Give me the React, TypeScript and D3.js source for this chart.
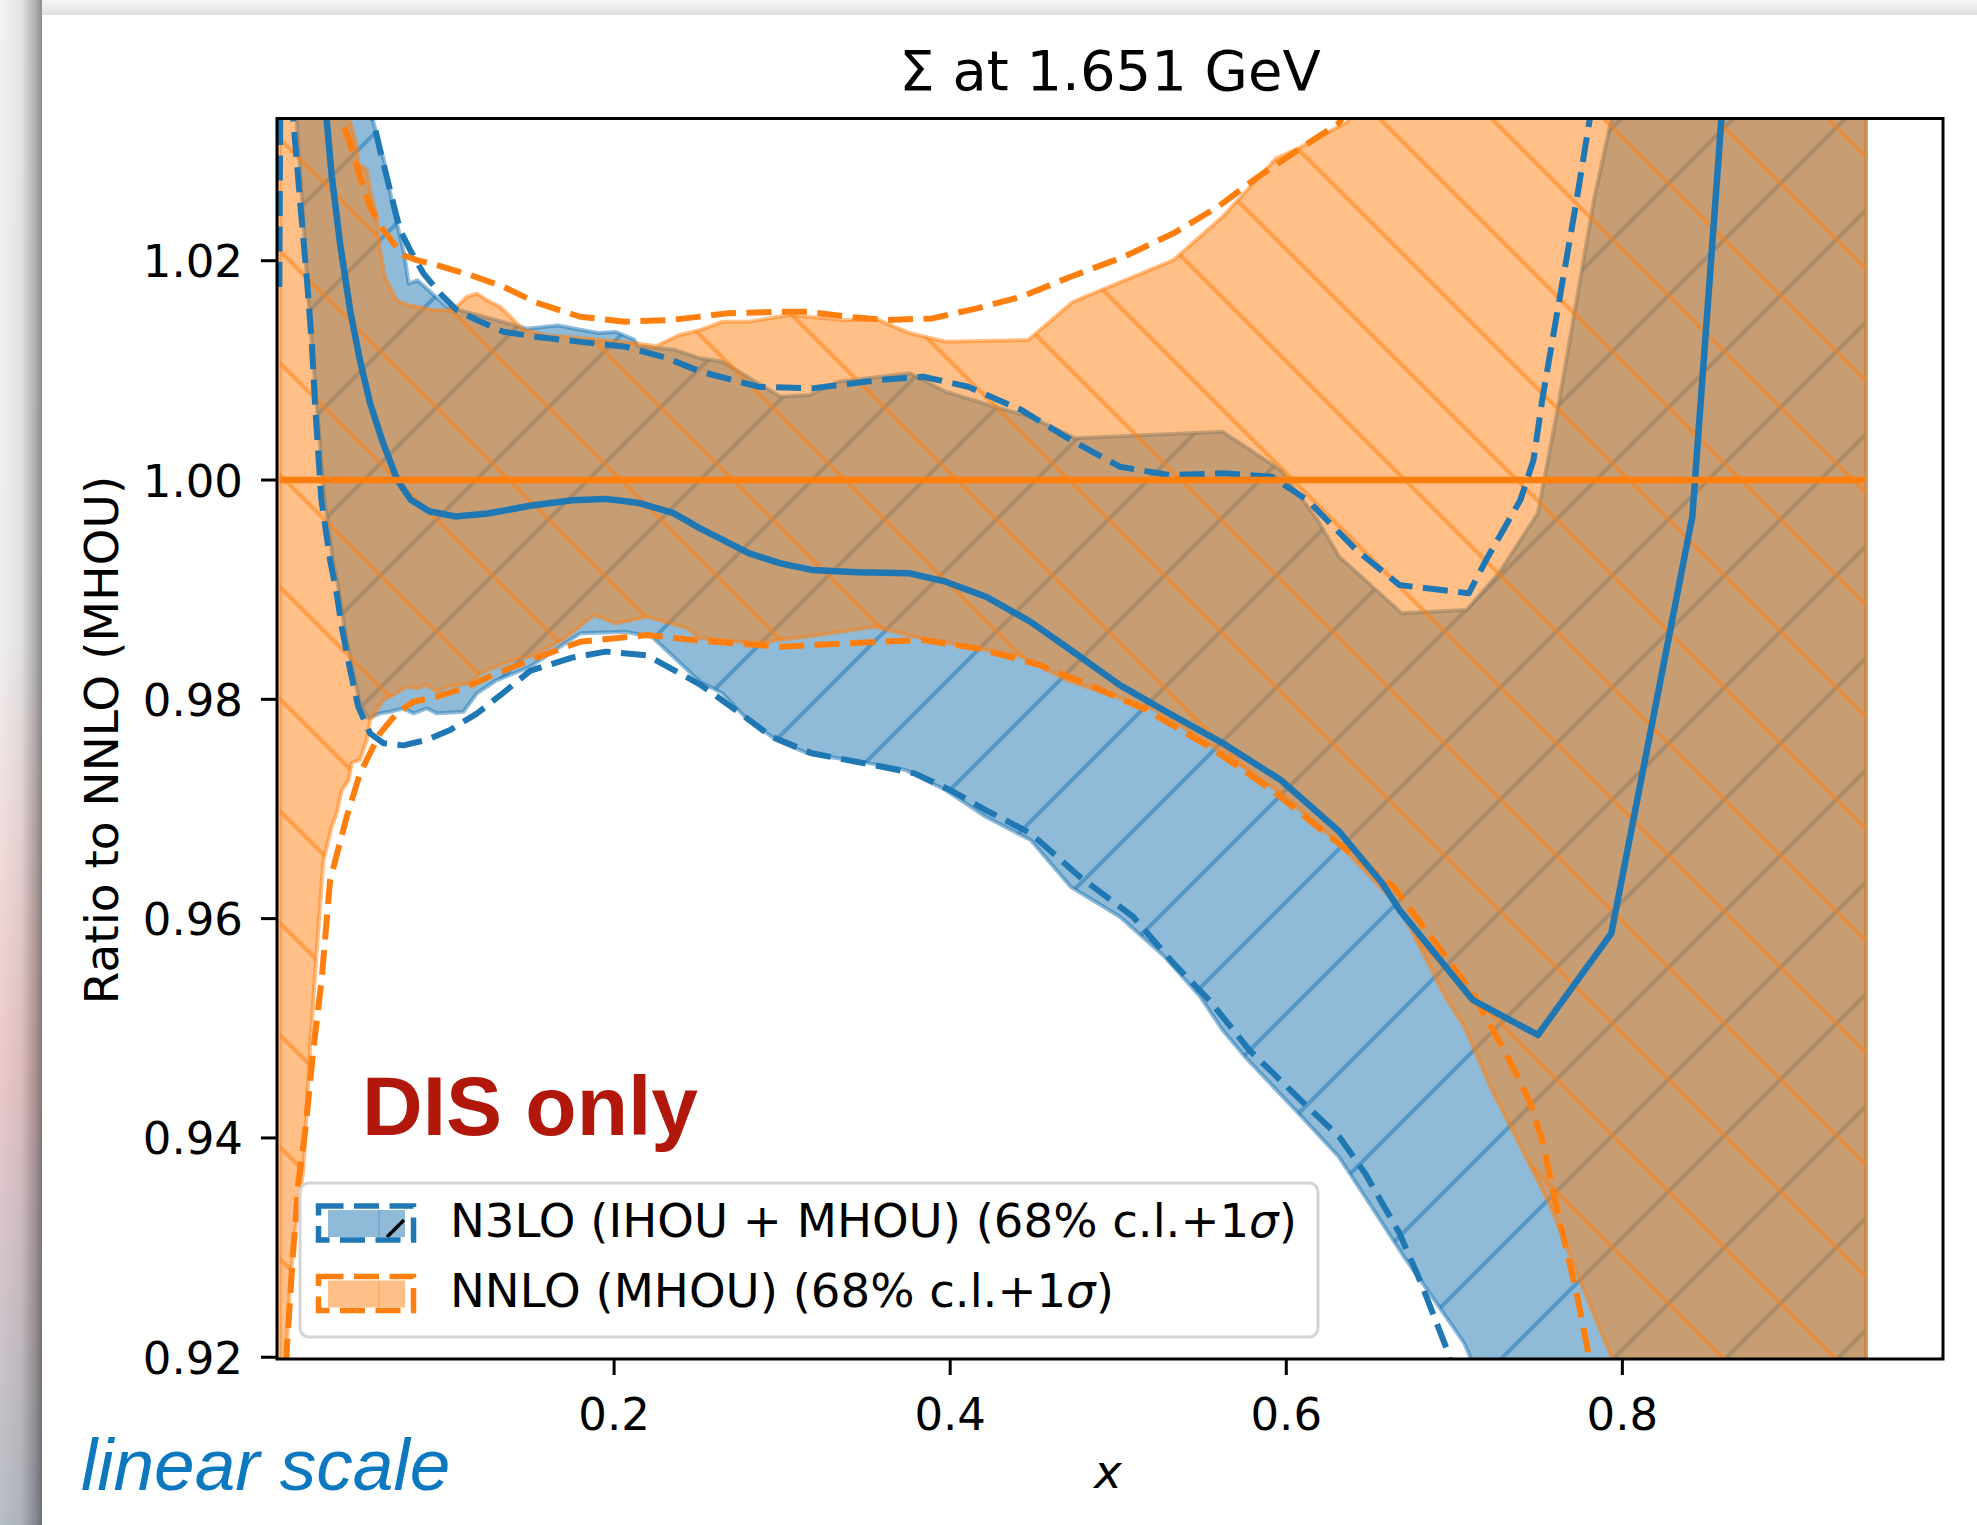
import React, { useEffect, useRef } from "react";
import * as d3 from "d3";

type Pt = [number, number];

// N3LO (IHOU + MHOU) -- central value, band edges and 68% c.l.+1sigma dashed envelope
const n3loCentral: Pt[] = [
  [0.01, 1.12], [0.02, 1.052], [0.0245, 1.041], [0.029, 1.0328], [0.032, 1.0277],
  [0.0369, 1.0216], [0.0429, 1.0155], [0.0488, 1.0109], [0.0548, 1.007], [0.062, 1.0036],
  [0.071, 1.0], [0.079, 0.9982], [0.09, 0.99715], [0.1055, 0.99668], [0.125, 0.99695],
  [0.15, 0.99765], [0.175, 0.99815], [0.195, 0.99828], [0.215, 0.9979], [0.235, 0.997],
  [0.2512, 0.99559], [0.2804, 0.99331], [0.299, 0.9924], [0.3176, 0.9918], [0.345, 0.9916],
  [0.376, 0.99149], [0.3973, 0.99073], [0.4213, 0.98936], [0.4476, 0.98709], [0.4717, 0.9845],
  [0.501, 0.9813], [0.5302, 0.97873], [0.5621, 0.97601], [0.5967, 0.97264], [0.6312, 0.96799],
  [0.657, 0.96325], [0.6674, 0.96078], [0.711, 0.95258], [0.7497, 0.94939], [0.7934, 0.95866],
  [0.8416, 0.99663], [0.88, 1.077],
];
const n3loBandHi: Pt[] = [
  [0.001, 1.1], [0.05, 1.06], [0.0564, 1.0328], [0.063, 1.0292], [0.0684, 1.0249],
  [0.075, 1.0207], [0.0777, 1.0179], [0.083, 1.0182], [0.0896, 1.0173], [0.1002, 1.0158],
  [0.12, 1.015], [0.1481, 1.0138], [0.1667, 1.0141], [0.1798, 1.0137], [0.1905, 1.0134],
  [0.2012, 1.0135], [0.2119, 1.0128], [0.2143, 1.0122], [0.2357, 1.0119], [0.2512, 1.0111],
  [0.2645, 1.0108], [0.299, 1.0076], [0.3163, 1.00775], [0.3336, 1.00896], [0.3761, 1.00973],
  [0.3973, 1.00805], [0.4265, 1.00668], [0.4479, 1.00577], [0.4744, 1.0038], [0.5621, 1.0044],
  [0.5967, 1.00091], [0.6186, 0.99635], [0.6315, 0.993], [0.6688, 0.98784], [0.7072, 0.98814],
  [0.7265, 0.99149], [0.7497, 0.99696], [0.7625, 1.0073], [0.7728, 1.01642], [0.7831, 1.02554],
  [0.7934, 1.03283], [0.81, 1.05], [0.945, 1.06],
];
const n3loBandLo: Pt[] = [
  [0.001, 1.1], [0.0111, 1.0328], [0.0141, 1.0262], [0.0171, 1.0185], [0.0201, 1.0125],
  [0.023, 1.007], [0.0275, 0.9985], [0.0327, 0.9927], [0.0365, 0.9897], [0.0395, 0.9866],
  [0.0445, 0.9827], [0.049, 0.9795], [0.0538, 0.97827], [0.0607, 0.97872], [0.0667, 0.97887],
  [0.0746, 0.97918], [0.0806, 0.97872], [0.0885, 0.97918], [0.0945, 0.97872], [0.1103, 0.97887],
  [0.1183, 0.98055], [0.1302, 0.98176], [0.15, 0.98297], [0.1798, 0.98602], [0.2065, 0.98617],
  [0.2225, 0.98571], [0.2512, 0.9816], [0.2645, 0.98055], [0.2777, 0.97842], [0.2964, 0.97629],
  [0.3149, 0.97508], [0.3521, 0.97416], [0.3735, 0.97355], [0.3973, 0.97173], [0.4212, 0.96929],
  [0.4479, 0.96717], [0.4717, 0.96291], [0.501, 0.96017], [0.5276, 0.95653], [0.5488, 0.95288],
  [0.5621, 0.94984], [0.5754, 0.9474], [0.6073, 0.94224], [0.6312, 0.93829], [0.6469, 0.93464],
  [0.67, 0.92917], [0.6854, 0.92583], [0.706, 0.92126], [0.7098, 0.9199], [0.73, 0.9],
  [0.945, 0.88],
];
const n3loDashHi: Pt[] = [
  [0.0008, 1.0176], [0.0025, 1.07], [0.045, 1.07], [0.052, 1.04], [0.0567, 1.0328],
  [0.0607, 1.0301], [0.0647, 1.02766], [0.0686, 1.02523], [0.0726, 1.0228], [0.0786, 1.02098],
  [0.0865, 1.01885], [0.0964, 1.01703], [0.1064, 1.0155], [0.1183, 1.01459], [0.1341, 1.01352],
  [0.1534, 1.01307], [0.18, 1.0126], [0.2065, 1.01216], [0.23, 1.0112], [0.2512, 1.0099],
  [0.2857, 1.00851], [0.3176, 1.00836], [0.3575, 1.00912], [0.384, 1.00942], [0.4107, 1.00851],
  [0.4425, 1.00638], [0.4717, 1.00365], [0.501, 1.00121], [0.5302, 1.00046], [0.5621, 1.00061],
  [0.5913, 1.0003], [0.6125, 0.99818], [0.6417, 0.99362], [0.6674, 0.99042], [0.7086, 0.98967],
  [0.7189, 0.9927], [0.7393, 0.99818], [0.7471, 1.00182], [0.7523, 1.0073], [0.7625, 1.01642],
  [0.7728, 1.02554], [0.7805, 1.03283], [0.8, 1.05],
];
const n3loDashLo: Pt[] = [
  [0.001, 1.09], [0.006, 1.042], [0.0091, 1.0328], [0.0111, 1.0292], [0.0141, 1.0237],
  [0.0171, 1.0185], [0.0201, 1.0125], [0.022, 1.007], [0.0258, 0.9982], [0.031, 0.9927],
  [0.0349, 0.9897], [0.0379, 0.9866], [0.0429, 0.9827], [0.0478, 0.9793], [0.0548, 0.9769],
  [0.0627, 0.976], [0.0746, 0.9758], [0.0885, 0.9763], [0.1024, 0.9772], [0.1183, 0.9787],
  [0.1341, 0.9806], [0.15, 0.9826], [0.175, 0.9838], [0.195, 0.98435], [0.2196, 0.984],
  [0.2512, 0.98135], [0.2751, 0.97872], [0.2937, 0.97659], [0.3176, 0.97508], [0.3548, 0.974],
  [0.3787, 0.97325], [0.4, 0.97173], [0.4212, 0.9699], [0.4479, 0.96778], [0.4771, 0.96382],
  [0.5089, 0.96017], [0.5329, 0.95592], [0.5541, 0.95258], [0.578, 0.94802], [0.6126, 0.94285],
  [0.6315, 0.94011], [0.6469, 0.93677], [0.6674, 0.9313], [0.6803, 0.92674], [0.6957, 0.92066],
  [0.72, 0.905],
];

// NNLO (MHOU) -- the reference, so its central value is 1
const nnloCentral: Pt[] = [[0.001, 1.0], [0.945, 1.0]];
const nnloBandHi: Pt[] = [
  [0.001, 1.1], [0.04, 1.045], [0.0427, 1.0328], [0.0464, 1.0307], [0.0478, 1.0289],
  [0.0528, 1.0283], [0.0548, 1.0265], [0.0587, 1.024], [0.0607, 1.021], [0.0637, 1.0185],
  [0.0706, 1.0164], [0.0766, 1.016], [0.0826, 1.0158], [0.0925, 1.0155], [0.1004, 1.0155],
  [0.1064, 1.0158], [0.1123, 1.0167], [0.1183, 1.017], [0.1242, 1.0164], [0.1321, 1.0158],
  [0.1381, 1.0149], [0.146, 1.0137], [0.16, 1.0132], [0.18, 1.01295], [0.2119, 1.0125],
  [0.225, 1.0122], [0.2385, 1.0132], [0.2512, 1.01368], [0.2645, 1.01444], [0.2804, 1.01444],
  [0.3043, 1.01505], [0.3362, 1.01459], [0.3575, 1.01459], [0.3761, 1.01338], [0.3973, 1.01261],
  [0.4464, 1.01277], [0.4731, 1.01626], [0.5329, 1.02006], [0.5621, 1.02401], [0.594, 1.02934],
  [0.6073, 1.03025], [0.6365, 1.03268], [0.66, 1.04], [0.7, 1.05], [0.945, 1.06],
];
const nnloBandLo: Pt[] = [
  [0.001, 0.88], [0.0032, 0.915], [0.0071, 0.9267], [0.0101, 0.9313], [0.0151, 0.9371],
  [0.019, 0.948], [0.023, 0.9571], [0.027, 0.9653], [0.032, 0.9684], [0.0349, 0.9696],
  [0.0379, 0.9717], [0.0419, 0.9726], [0.0439, 0.9742], [0.0488, 0.9745], [0.0528, 0.9763],
  [0.0548, 0.9781], [0.0627, 0.97994], [0.0667, 0.98024], [0.0766, 0.98115], [0.0826, 0.981],
  [0.0885, 0.9813], [0.0945, 0.98069], [0.1002, 0.98115], [0.1143, 0.98146], [0.1202, 0.98237],
  [0.1401, 0.98358], [0.15, 0.98389], [0.1693, 0.98541], [0.188, 0.98769], [0.2012, 0.98693],
  [0.2198, 0.98753], [0.2438, 0.98647], [0.2512, 0.98556], [0.2831, 0.98511], [0.3149, 0.98571],
  [0.3548, 0.98662], [0.3787, 0.98571], [0.4159, 0.98465], [0.4425, 0.98389], [0.469, 0.98176],
  [0.5222, 0.97902], [0.5595, 0.97538], [0.5967, 0.97143], [0.6312, 0.96687], [0.6674, 0.961],
  [0.6957, 0.95258], [0.706, 0.95014], [0.7214, 0.94467], [0.7445, 0.93768], [0.7574, 0.93373],
  [0.7754, 0.92674], [0.7934, 0.92005], [0.81, 0.9], [0.945, 0.88],
];
const nnloDashHi: Pt[] = [
  [0.001, 1.09], [0.025, 1.07], [0.033, 1.042], [0.0379, 1.0328], [0.0429, 1.0307],
  [0.0488, 1.02766], [0.0548, 1.02493], [0.0627, 1.0228], [0.0696, 1.02143], [0.0746, 1.0205],
  [0.0826, 1.02006], [0.0945, 1.0196], [0.1143, 1.0187], [0.1341, 1.01763], [0.1534, 1.0162],
  [0.1798, 1.01489], [0.2065, 1.01444], [0.2331, 1.01459], [0.2512, 1.0149], [0.2671, 1.0152],
  [0.299, 1.01535], [0.3149, 1.01535], [0.3389, 1.01489], [0.3628, 1.01459], [0.3893, 1.01474],
  [0.4159, 1.01566], [0.4425, 1.01672], [0.4717, 1.01854], [0.5036, 1.02037], [0.5329, 1.0225],
  [0.5595, 1.02493], [0.5833, 1.02766], [0.6099, 1.0304], [0.6312, 1.03253], [0.66, 1.04],
];
const nnloDashLo: Pt[] = [
  [0.003, 0.9], [0.0052, 0.9207], [0.0091, 0.9298], [0.0121, 0.9359], [0.0161, 0.9405],
  [0.021, 0.948], [0.026, 0.9545], [0.031, 0.9635], [0.0409, 0.9693], [0.0488, 0.97325],
  [0.0607, 0.9769], [0.0706, 0.97872], [0.0806, 0.97978], [0.0945, 0.98024], [0.1103, 0.981],
  [0.1302, 0.98237], [0.15, 0.98358], [0.1798, 0.98525], [0.2198, 0.98586], [0.2512, 0.98535],
  [0.299, 0.9848], [0.3575, 0.98525], [0.3839, 0.98541], [0.4159, 0.98465], [0.4532, 0.98313],
  [0.4851, 0.98115], [0.5169, 0.97902], [0.5541, 0.97568], [0.5913, 0.97173], [0.6285, 0.96717],
  [0.664, 0.9629], [0.7111, 0.95318], [0.7163, 0.95166], [0.7317, 0.94741], [0.7445, 0.94346],
  [0.7523, 0.93981], [0.7625, 0.93251], [0.7728, 0.92583], [0.7792, 0.92081], [0.785, 0.915],
];

const xTicks = [0.2, 0.4, 0.6, 0.8];
const yTicks = [0.92, 0.94, 0.96, 0.98, 1.0, 1.02];
const legendLabels = ["N3LO (IHOU + MHOU) (68% c.l.+1", "NNLO (MHOU) (68% c.l.+1"];

const W = 1977;
const H = 1525;
const BLUE = "#1f77b4";
const ORANGE = "#ff7f0e";
const FONT = "DejaVu Sans";

export default function App() {
  const ref = useRef<SVGSVGElement>(null);

  useEffect(() => {
    const svg = d3.select(ref.current);
    svg.selectAll("*").remove();

    const frame = { left: 277, top: 118.5, right: 1943, bottom: 1359 };
    const x = d3.scaleLinear().domain([-0.0006, 0.9908]).range([frame.left, frame.right]);
    const y = d3.scaleLinear().domain([0.91984, 1.03297]).range([frame.bottom, frame.top]);
    const line = d3.line<Pt>().x((d) => x(d[0])).y((d) => y(d[1]));
    const bandPath = (hi: Pt[], lo: Pt[]) => line([...hi, ...lo.slice().reverse()]) + "Z";

    const defs = svg.append("defs");

    // screenshot shadow along the left and top
    const stripV = defs.append("linearGradient").attr("id", "stripV")
      .attr("x1", 0).attr("y1", 0).attr("x2", 0).attr("y2", 1);
    [[0, "#f2f2f2"], [0.42, "#f0eeee"], [0.55, "#f1dcdc"], [0.7, "#ecc8ca"], [0.8, "#d9c6cc"], [1, "#b8bec6"]]
      .forEach(([o, c]) => stripV.append("stop").attr("offset", o).attr("stop-color", c));
    const stripH = defs.append("linearGradient").attr("id", "stripH")
      .attr("x1", 0).attr("y1", 0).attr("x2", 1).attr("y2", 0);
    [[0, 0], [0.5, 0.06], [0.85, 0.28], [1, 0.42]]
      .forEach(([o, a]) => stripH.append("stop").attr("offset", o).attr("stop-color", "#000").attr("stop-opacity", a));
    const topV = defs.append("linearGradient").attr("id", "topV")
      .attr("x1", 0).attr("y1", 0).attr("x2", 0).attr("y2", 1);
    topV.append("stop").attr("offset", 0).attr("stop-color", "#f6f6f6");
    topV.append("stop").attr("offset", 1).attr("stop-color", "#e0e0e0");

    // hatches: "/" for N3LO, "\" for NNLO
    const hatch = (id: string, color: string, d: string, transform: string) => {
      defs.append("pattern").attr("id", id)
        .attr("patternUnits", "userSpaceOnUse")
        .attr("width", 112).attr("height", 112)
        .attr("patternTransform", transform)
        .append("path").attr("d", d)
        .attr("fill", "none").attr("stroke", color)
        .attr("stroke-opacity", 0.5).attr("stroke-width", 4.2);
    };
    hatch("hatchBlue", BLUE, "M-56,56L56,-56M0,112L112,0M56,168L168,56", "translate(60,0)");
    hatch("hatchOrange", ORANGE, "M-56,56L56,168M0,0L112,112M56,-56L168,56", "translate(0,83)");

    defs.append("clipPath").attr("id", "plotArea")
      .append("rect")
      .attr("x", frame.left).attr("y", frame.top)
      .attr("width", frame.right - frame.left).attr("height", frame.bottom - frame.top);

    svg.append("rect").attr("width", W).attr("height", H).attr("fill", "#fff");
    svg.append("rect").attr("width", 42).attr("height", H).attr("fill", "url(#stripV)");
    svg.append("rect").attr("width", 42).attr("height", H).attr("fill", "url(#stripH)");
    svg.append("rect").attr("x", 42).attr("width", W - 42).attr("height", 15).attr("fill", "url(#topV)");

    const plot = svg.append("g").attr("clip-path", "url(#plotArea)");

    const band = (hi: Pt[], lo: Pt[], color: string, hatchId: string) => {
      const p = bandPath(hi, lo);
      plot.append("path").attr("d", p).attr("fill", color).attr("fill-opacity", 0.5);
      plot.append("path").attr("d", p).attr("fill", `url(#${hatchId})`);
      plot.append("path").attr("d", p).attr("fill", "none")
        .attr("stroke", color).attr("stroke-opacity", 0.5)
        .attr("stroke-width", 4).attr("stroke-linejoin", "round");
    };
    band(n3loBandHi, n3loBandLo, BLUE, "hatchBlue");
    band(nnloBandHi, nnloBandLo, ORANGE, "hatchOrange");

    const curve = (pts: Pt[], color: string, dashed: boolean) => {
      plot.append("path").attr("d", line(pts)).attr("fill", "none")
        .attr("stroke", color).attr("stroke-width", dashed ? 6 : 6.5)
        .attr("stroke-linejoin", "round")
        .attr("stroke-dasharray", dashed ? "25 10.5" : null);
    };
    curve(n3loDashLo, BLUE, true);
    curve(n3loDashHi, BLUE, true);
    curve(nnloDashLo, ORANGE, true);
    curve(nnloDashHi, ORANGE, true);
    curve(n3loCentral, BLUE, false);
    curve(nnloCentral, ORANGE, false);

    // axes frame and ticks
    svg.append("rect")
      .attr("x", frame.left).attr("y", frame.top)
      .attr("width", frame.right - frame.left).attr("height", frame.bottom - frame.top)
      .attr("fill", "none").attr("stroke", "#000").attr("stroke-width", 3);

    yTicks.forEach((t) => {
      svg.append("line").attr("x1", frame.left - 16).attr("x2", frame.left)
        .attr("y1", y(t)).attr("y2", y(t)).attr("stroke", "#000").attr("stroke-width", 3);
      svg.append("text").attr("x", 243).attr("y", y(t) + 16.5)
        .attr("text-anchor", "end").attr("font-family", FONT).attr("font-size", 45)
        .text(t.toFixed(2));
    });
    xTicks.forEach((t) => {
      svg.append("line").attr("x1", x(t)).attr("x2", x(t))
        .attr("y1", frame.bottom).attr("y2", frame.bottom + 16)
        .attr("stroke", "#000").attr("stroke-width", 3);
      svg.append("text").attr("x", x(t)).attr("y", 1430)
        .attr("text-anchor", "middle").attr("font-family", FONT).attr("font-size", 45)
        .text(t.toFixed(1));
    });

    svg.append("text").attr("x", 1110).attr("y", 90)
      .attr("text-anchor", "middle").attr("font-family", FONT).attr("font-size", 56)
      .text("\u03a3 at 1.651 GeV");
    svg.append("text").attr("x", 1108).attr("y", 1488)
      .attr("text-anchor", "middle").attr("font-family", FONT).attr("font-size", 47)
      .attr("font-style", "italic").text("x");
    svg.append("text").attr("transform", "translate(118,740) rotate(-90)")
      .attr("text-anchor", "middle").attr("font-family", FONT).attr("font-size", 47)
      .text("Ratio to NNLO (MHOU)");

    // legend
    const leg = svg.append("g");
    leg.append("rect").attr("x", 300).attr("y", 1183).attr("width", 1018).attr("height", 154)
      .attr("rx", 9).attr("fill", "#fff").attr("fill-opacity", 0.8)
      .attr("stroke", "#d4d4d4").attr("stroke-width", 3);
    [BLUE, ORANGE].forEach((color, i) => {
      const top = 1206 + i * 70.5;
      leg.append("rect").attr("x", 328).attr("y", top + 4).attr("width", 77).attr("height", 27)
        .attr("fill", color).attr("fill-opacity", 0.5);
      leg.append("line").attr("x1", 379).attr("x2", 379).attr("y1", top + 4).attr("y2", top + 31)
        .attr("stroke", color).attr("stroke-opacity", 0.35).attr("stroke-width", 1.5);
      if (i === 0) {
        leg.append("line").attr("x1", 387).attr("y1", top + 31).attr("x2", 404).attr("y2", top + 14)
          .attr("stroke", "#000").attr("stroke-width", 3.5);
      }
      leg.append("rect").attr("x", 318.5).attr("y", top).attr("width", 95).attr("height", 34)
        .attr("fill", "none").attr("stroke", color).attr("stroke-width", 5.5)
        .attr("stroke-dasharray", "25 10.5");
      const txt = leg.append("text").attr("x", 450).attr("y", 1237 + i * 70)
        .attr("font-family", FONT).attr("font-size", 46.6);
      txt.append("tspan").text(legendLabels[i]);
      txt.append("tspan").attr("font-style", "italic").text("\u03c3");
      txt.append("tspan").text(")");
    });

    // annotations added on top of the figure
    svg.append("text").attr("x", 362).attr("y", 1135)
      .attr("font-family", "Liberation Sans").attr("font-weight", "bold").attr("font-size", 84)
      .attr("fill", "#b2170c").text("DIS only");
    svg.append("text").attr("x", 81).attr("y", 1490)
      .attr("font-family", "Liberation Sans").attr("font-style", "italic").attr("font-size", 73)
      .attr("fill", "#0b78bf").text("linear scale");
  }, []);

  return (
    <svg
      ref={ref}
      width={W}
      height={H}
      style={{ position: "absolute", left: 0, top: 0, display: "block" }}
    />
  );
}
